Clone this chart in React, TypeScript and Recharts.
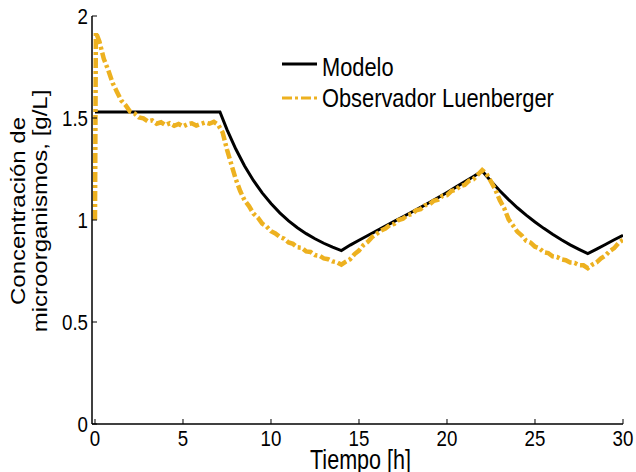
import React from 'react';
import { LineChart, Line, XAxis, YAxis, Legend } from 'recharts';

// ---- data ----
const modelTime = [0, 7.1, 7.5, 8, 8.5, 9, 9.5, 10, 10.5, 11, 11.5, 12, 12.5, 13, 13.5, 14,
  14.5, 15, 15.5, 16, 16.5, 17, 17.5, 18, 18.5, 19, 19.5, 20, 20.5, 21, 21.5, 22,
  22.5, 23, 23.5, 24, 24.5, 25, 25.5, 26, 26.5, 27, 27.5, 28, 28.5, 29, 29.5, 30];
const modelValues = [1.53, 1.53, 1.443, 1.348, 1.265, 1.194, 1.133, 1.081, 1.035, 0.996, 0.962, 0.933, 0.908, 0.886, 0.867, 0.85,
  0.877, 0.901, 0.924, 0.947, 0.97, 0.993, 1.016, 1.039, 1.062, 1.086, 1.11, 1.135, 1.161, 1.187, 1.213, 1.24,
  1.19, 1.143, 1.1, 1.06, 1.024, 0.99, 0.959, 0.93, 0.903, 0.878, 0.856, 0.835, 0.857, 0.88, 0.903, 0.925];

const obsTime = [0, 0.05, 0.25, 0.5, 0.75, 1, 1.25, 1.5, 1.75, 2, 2.25, 2.5, 2.75, 3, 3.25, 3.5, 3.75,
  4, 4.25, 4.5, 4.75, 5, 5.25, 5.5, 5.75, 6, 6.25, 6.5, 6.75, 7, 7.25, 7.5, 7.75,
  8, 8.25, 8.5, 8.75, 9, 9.25, 9.5, 9.75, 10, 10.25, 10.5, 10.75, 11, 11.25, 11.5, 11.75,
  12, 12.25, 12.5, 12.75, 13, 13.25, 13.5, 13.75, 14, 14.25, 14.5, 14.75, 15, 15.25, 15.5, 15.75,
  16, 16.25, 16.5, 16.75, 17, 17.25, 17.5, 17.75, 18, 18.25, 18.5, 18.75, 19, 19.25, 19.5, 19.75,
  20, 20.25, 20.5, 20.75, 21, 21.25, 21.5, 21.75, 22, 22.25, 22.5, 22.75, 23, 23.25, 23.5, 23.75,
  24, 24.25, 24.5, 24.75, 25, 25.25, 25.5, 25.75, 26, 26.25, 26.5, 26.75, 27, 27.25, 27.5, 27.75,
  28, 28.25, 28.5, 28.75, 29, 29.25, 29.5, 29.75, 30];
const obsValues = [1.0, 1.92, 1.875, 1.79, 1.735, 1.672, 1.628, 1.585, 1.562, 1.531, 1.522, 1.503, 1.498, 1.484, 1.488, 1.472, 1.479,
  1.465, 1.474, 1.462, 1.471, 1.459, 1.469, 1.474, 1.463, 1.471, 1.478, 1.472, 1.481, 1.466, 1.43, 1.345, 1.272,
  1.2, 1.142, 1.096, 1.068, 1.032, 1.012, 0.982, 0.968, 0.945, 0.934, 0.917, 0.908, 0.89, 0.883, 0.866, 0.864,
  0.846, 0.843, 0.828, 0.825, 0.812, 0.808, 0.797, 0.793, 0.781, 0.796, 0.808, 0.833, 0.85, 0.877, 0.893, 0.917,
  0.932, 0.948, 0.958, 0.975, 0.981, 1.0, 1.006, 1.024, 1.029, 1.048, 1.053, 1.072, 1.076, 1.094, 1.1, 1.118,
  1.122, 1.142, 1.148, 1.166, 1.172, 1.192, 1.199, 1.222, 1.245, 1.226, 1.188, 1.148, 1.097, 1.058, 1.003, 0.973,
  0.942, 0.924, 0.898, 0.889, 0.869, 0.861, 0.842, 0.838, 0.822, 0.819, 0.807, 0.803, 0.792, 0.79, 0.779, 0.778,
  0.764, 0.781, 0.792, 0.812, 0.826, 0.848, 0.862, 0.887, 0.903];

const xTicks = [0, 5, 10, 15, 20, 25, 30];
const yTicks = [0, 0.5, 1, 1.5, 2];
const xLabel = 'Tiempo [h]';
const yLabelLines = ['Concentración de', 'microorganismos, [g/L]'];
const seriesNames = ['Modelo', 'Observador Luenberger'];

const modelData = modelTime.map((t, i) => ({ t, v: modelValues[i] }));
const obsData = obsTime.map((t, i) => ({ t, v: obsValues[i] }));

// ---- styles ----
const FONT = "'Liberation Sans', Arial, Helvetica, sans-serif";
const ORANGE = '#EDB120';
const SQ = 0.85;
const TICK_FS = 22;
const DASH = '10 3 3 3';

function BottomTick(props: any) {
  const { x, y, payload } = props;
  return (
    <g>
      <line x1={x} x2={x} y1={y} y2={y - 5} stroke="#000" strokeWidth={1} />
      <g transform={`translate(${x},${y + 22}) scale(${SQ},1)`}>
        <text x={0} y={0} textAnchor="middle" fontSize={TICK_FS} fontFamily={FONT} fill="#000">
          {String(payload.value)}
        </text>
      </g>
    </g>
  );
}

function TopTick(props: any) {
  const { x, y } = props;
  return <line x1={x} x2={x} y1={y} y2={y + 5} stroke="#000" strokeWidth={1} />;
}

function LeftTick(props: any) {
  const { x, y, payload } = props;
  return (
    <g>
      <line x1={x} x2={x + 5} y1={y} y2={y} stroke="#000" strokeWidth={1} />
      <g transform={`translate(${x - 4},${y + 8}) scale(${SQ},1)`}>
        <text x={0} y={0} textAnchor="end" fontSize={TICK_FS} fontFamily={FONT} fill="#000">
          {String(payload.value)}
        </text>
      </g>
    </g>
  );
}

function RightTick(props: any) {
  const { x, y } = props;
  return <line x1={x} x2={x - 5} y1={y} y2={y} stroke="#000" strokeWidth={1} />;
}

function XLabel(props: any) {
  const vb = props.viewBox || { x: 92, y: 424, width: 531, height: 30 };
  const cx = vb.x + vb.width / 2 + 3;
  const by = vb.y + 45;
  return (
    <g transform={`translate(${cx},${by}) scale(0.77,1)`}>
      <text x={0} y={0} textAnchor="middle" fontSize={28} fontFamily={FONT} fill="#000">
        {xLabel}
      </text>
    </g>
  );
}

function YLabel(props: any) {
  const vb = props.viewBox || { x: 32, y: 16, width: 60, height: 408 };
  const cy = vb.y + vb.height / 2 - 9;
  return (
    <g>
      <g transform={`translate(${vb.x - 7},${cy}) scale(0.85,1) rotate(-90)`}>
        <text x={0} y={0} textAnchor="middle" fontSize={24} fontFamily={FONT} fill="#000">
          {yLabelLines[0]}
        </text>
      </g>
      <g transform={`translate(${vb.x + 15},${cy}) scale(0.85,1) rotate(-90)`}>
        <text x={0} y={0} textAnchor="middle" fontSize={24} fontFamily={FONT} fill="#000">
          {yLabelLines[1]}
        </text>
      </g>
    </g>
  );
}

function LegendContent() {
  return (
    <svg width={330} height={70} style={{ display: 'block' }}>
      <line x1={2} x2={37} y1={14} y2={14} stroke="#000" strokeWidth={3} />
      <g transform="translate(42,26) scale(0.84,1)">
        <text x={0} y={0} fontSize={26} fontFamily={FONT} fill="#000">{seriesNames[0]}</text>
      </g>
      <line x1={2} x2={37} y1={48} y2={48} stroke={ORANGE} strokeWidth={3} strokeDasharray={DASH} />
      <g transform="translate(42,57) scale(0.84,1)">
        <text x={0} y={0} fontSize={26} fontFamily={FONT} fill="#000">{seriesNames[1]}</text>
      </g>
    </svg>
  );
}

export default function App() {
  const axisLine = { stroke: '#000', strokeWidth: 1.5 };
  return (
    <div style={{ position: 'absolute', left: 0, top: 0, width: 636, height: 472, background: '#fff' }}>
      <LineChart width={636} height={472} margin={{ top: 16, right: 13, bottom: 18, left: 32 }}>
        <XAxis xAxisId="b" type="number" dataKey="t" domain={[-0.17, 30]} ticks={xTicks} interval={0}
          allowDataOverflow tickLine={false} tickSize={0} tickMargin={0} height={30}
          axisLine={axisLine} tick={<BottomTick />} label={<XLabel />} />
        <XAxis xAxisId="top" orientation="top" type="number" dataKey="t" domain={[-0.17, 30]} ticks={xTicks}
          interval={0} allowDataOverflow tickLine={false} tickSize={0} tickMargin={0} height={0}
          axisLine={axisLine} tick={<TopTick />} />
        <YAxis yAxisId="l" type="number" domain={[0, 2]} ticks={yTicks} interval={0} allowDataOverflow
          tickLine={false} tickSize={0} tickMargin={0} width={60} axisLine={axisLine}
          tick={<LeftTick />} label={<YLabel />} />
        <YAxis yAxisId="r" orientation="right" type="number" domain={[0, 2]} ticks={yTicks} interval={0}
          allowDataOverflow tickLine={false} tickSize={0} tickMargin={0} width={0} axisLine={axisLine}
          tick={<RightTick />} />
        <Line xAxisId="b" yAxisId="l" data={modelData} dataKey="v" name={seriesNames[0]} type="linear"
          stroke="#000" strokeWidth={3} dot={false} isAnimationActive={false} />
        <Line xAxisId="b" yAxisId="l" data={obsData} dataKey="v" name={seriesNames[1]} type="linear"
          stroke={ORANGE} strokeWidth={4.5} strokeDasharray={DASH} dot={false} isAnimationActive={false} />
        <Legend layout="vertical" align="center" verticalAlign="middle"
          wrapperStyle={{ position: 'absolute', left: 280, top: 50, width: 330, height: 70 }}
          content={<LegendContent />} />
      </LineChart>
    </div>
  );
}
